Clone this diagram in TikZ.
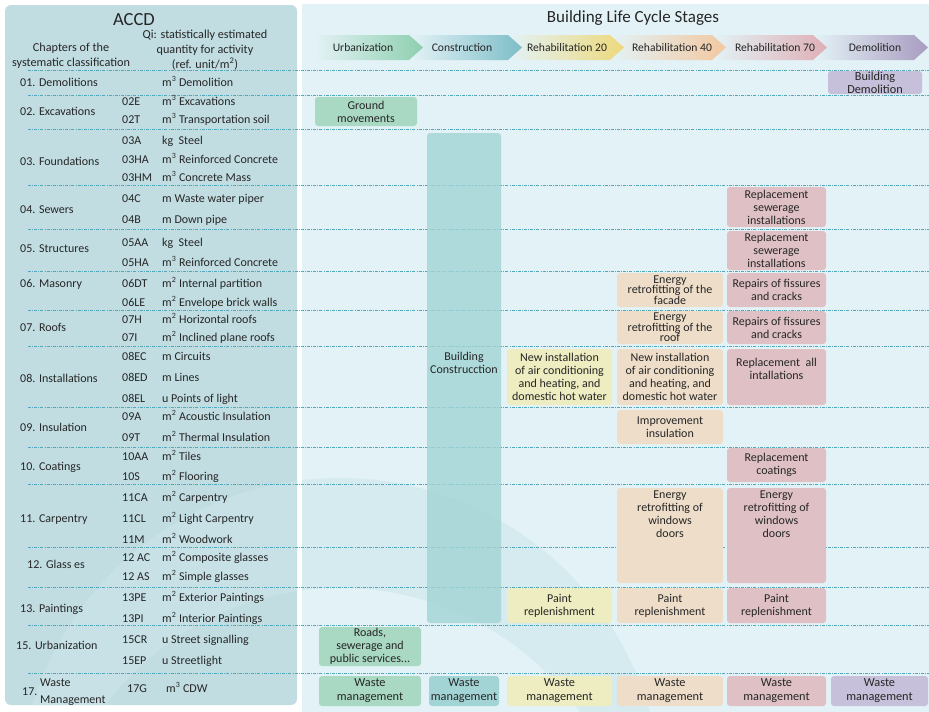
\documentclass[tikz,border=0pt]{standalone}
\usepackage{fontspec}
\setmainfont{Carlito}
\usetikzlibrary{positioning}

\definecolor{leftbg}{HTML}{C1DDE2}
\definecolor{rightbg}{HTML}{E3F2F6}
\definecolor{ringc}{HTML}{CDE6EA}
\definecolor{gridc}{HTML}{4FA9BA}
\definecolor{txt}{HTML}{262626}
\definecolor{urbfill}{HTML}{A9D8C3}
\definecolor{confill}{HTML}{A3D4D5}
\definecolor{rtwfill}{HTML}{EEEDC1}
\definecolor{rfofill}{HTML}{EEDEC9}
\definecolor{rsefill}{HTML}{DFC1C5}
\definecolor{demfill}{HTML}{C6C0DA}
\definecolor{urbarr}{HTML}{8ECFAF}
\definecolor{conarr}{HTML}{7DBDC8}
\definecolor{rtwarr}{HTML}{EDD97C}
\definecolor{rfoarr}{HTML}{F2C8A0}
\definecolor{rsearr}{HTML}{DEAFB5}
\definecolor{demarr}{HTML}{A99CC0}

\newcommand{\mcu}{m\textsuperscript{3}}
\newcommand{\msq}{m\textsuperscript{2}}

\tikzset{
  cell/.style={rounded corners=3pt, align=center, text=txt, inner sep=0pt,
               font=\fontsize{12}{13}\selectfont},
  urbbox/.style={cell, fill=urbfill},
  conbox/.style={cell, fill=confill},
  rtwbox/.style={cell, fill=rtwfill},
  rfobox/.style={cell, fill=rfofill},
  rsebox/.style={cell, fill=rsefill},
  dembox/.style={cell, fill=demfill},
  tight/.style={font=\fontsize{12}{10.5}\selectfont},
  celltxt/.style={align=center, text=txt, inner sep=0pt, font=\fontsize{12}{13}\selectfont},
  waste/.style={font=\fontsize{12.3}{14}\selectfont},
  rowline/.style={draw=gridc, line width=0.7pt, dash pattern=on 3pt off 1.2pt on 0.8pt off 1.2pt},
  chap/.style={anchor=west, text=txt, inner sep=0pt, text height=9pt, text depth=2.5pt},
  stagelbl/.style={text=txt, font=\fontsize{11.6}{13}\selectfont},
  head/.style={align=center, text=txt, font=\fontsize{12.2}{14.8}\selectfont},
}

\begin{document}
\begin{tikzpicture}[x=1pt, y=-1pt, font=\fontsize{12}{14}\selectfont]
  \useasboundingbox (0,0) rectangle (929,712);

  % panels
  \fill[leftbg, rounded corners=6pt] (5,5) rectangle (297,705);
  \fill[rightbg] (302,4) rectangle (929,712);
  \begin{scope}
    \clip (5,5) rectangle (297,705) (302,4) rectangle (929,712);
    \fill[ringc, opacity=0.55, even odd rule] (340,800) circle[radius=322] (340,882) circle[radius=294];
  \end{scope}

  % headings
  \node[text=txt, font=\fontsize{18.5}{20}\selectfont] (accd) at (134,20) {ACCD};
  \node[head] (chaphead) at (71,56) {Chapters of the\\systematic classification};
  \node[head] (qihead) at (205,50) {Qi: statistically estimated\\quantity for activity\\(ref. unit/m\textsuperscript{2})};
  \node[text=txt, font=\fontsize{17}{19}\selectfont] (lcs) at (633,18) {Building Life Cycle Stages};

  % stage chevrons (drawn right to left)
  \foreach \xs/\xt/\c in {815/928/demarr, 714/827/rsearr, 612/726/rfoarr,
                          510/624/rtwarr, 411/522/conarr, 315/423/urbarr}
    \shade[left color=rightbg, right color=\c]
      (\xs,35) -- (\xt-14,35) -- (\xt,47.5) -- (\xt-14,60) -- (\xs,60) -- cycle;
  \node[stagelbl] (sUrb) at (363,47.5) {Urbanization};
  \node[stagelbl] (sCon) at (462,47.5) {Construction};
  \node[stagelbl] (sR20) at (567,47.5) {Rehabilitation 20};
  \node[stagelbl] (sR40) at (672,47.5) {Rehabilitation 40};
  \node[stagelbl] (sR70) at (775,47.5) {Rehabilitation 70};
  \node[stagelbl] (sDem) at (875,47.5) {Demolition};

  % row separators
  \foreach \y in {70,95,129,185,229,271,310,346,407,447,484,547,587,625,673}
    \draw[rowline] (28,\y) -- (929,\y);

  % chapters
  \node[chap] (ch01) at (20,83)  {01. Demolitions};
  \node[chap] (ch02) at (20,112) {02. Excavations};
  \node[chap] (ch03) at (20,162) {03. Foundations};
  \node[chap] (ch04) at (20,210) {04. Sewers};
  \node[chap] (ch05) at (20,249) {05. Structures};
  \node[chap] (ch06) at (20,284) {06. Masonry};
  \node[chap] (ch07) at (20,328) {07. Roofs};
  \node[chap] (ch08) at (20,379) {08. Installations};
  \node[chap] (ch09) at (20,428) {09. Insulation};
  \node[chap] (ch10) at (20,467) {10. Coatings};
  \node[chap] (ch11) at (20,519) {11. Carpentry};
  \node[chap] (ch12) at (27,565) {12. Glass es};
  \node[chap] (ch13) at (20,609) {13. Paintings};
  \node[chap] (ch15) at (16,646) {15. Urbanization};
  \node[chap] (ch17) at (22,692) {17.};
  \node[chap, align=left, text height=, text depth=, font=\fontsize{12}{16.5}\selectfont] (ch17b) at (40,692) {Waste\\Management};

  % codes and quantities
  \node[chap] (q83) at (162,83) {\mcu{} Demolition};
  \foreach \y/\cd/\q in {
      102/02E/\mcu{} Excavations, 120/02T/\mcu{} Transportation soil,
      141/03A/kg\ \ Steel, 160/03HA/\mcu{} Reinforced Concrete, 178/03HM/\mcu{} Concrete Mass,
      199/04C/m Waste water piper, 220/04B/m Down pipe,
      243/05AA/kg\ \ Steel, 263/05HA/\mcu{} Reinforced Concrete,
      284/06DT/\msq{} Internal partition, 303/06LE/\msq{} Envelope brick walls,
      320/07H/\msq{} Horizontal roofs, 338/07I/\msq{} Inclined plane roofs,
      357/08EC/m Circuits, 378/08ED/m Lines, 399/08EL/u Points of light,
      417/09A/\msq{} Acoustic Insulation, 438/09T/\msq{} Thermal Insulation,
      457/10AA/\msq{} Tiles, 477/10S/\msq{} Flooring,
      498/11CA/\msq{} Carpentry, 519/11CL/\msq{} Light Carpentry, 540/11M/\msq{} Woodwork,
      558/12 AC/\msq{} Composite glasses, 577/12 AS/\msq{} Simple glasses,
      598/13PE/\msq{} Exterior Paintings, 619/13PI/\msq{} Interior Paintings,
      640/15CR/u Street signalling, 661/15EP/u Streetlight}{
    \node[chap] (cd\y) at (122,\y) {\cd};
    \node[chap] (q\y) at (162,\y) {\q};
  }
  \node[chap] (cd689) at (127,689) {17G};
  \node[chap] (q689) at (166,689) {\mcu{} CDW};

  % urbanization
  \node[urbbox, minimum width=102pt, minimum height=29pt] (ground) at (366,111.5) {Ground\\movements};
  \node[urbbox, minimum width=102pt, minimum height=39pt] (roads) at (370,646.5) {Roads,\\sewerage and\\public services...};
  \node[urbbox, waste, minimum width=102pt, minimum height=30pt] (wasteU) at (370,691) {Waste\\management};

  % construction
  \node[conbox, fill opacity=0.8, minimum width=74pt, minimum height=490pt] (build) at (464,378) {};
  \node[celltxt] (buildtxt) at (464,363) {Building\\Construcction};
  \node[conbox, waste, minimum width=70pt, minimum height=30pt] (wasteC) at (464,691) {Waste\\management};

  % rehabilitation 20
  \node[rtwbox, minimum width=105pt, minimum height=56pt] (hvac20) at (559.5,377) {New installation\\of air conditioning\\and heating, and\\domestic hot water};
  \node[rtwbox, minimum width=105pt, minimum height=35pt] (paint20) at (559.5,605.5) {Paint\\replenishment};
  \node[rtwbox, waste, minimum width=105pt, minimum height=30pt] (waste20) at (559.5,691) {Waste\\management};

  % rehabilitation 40
  \node[rfobox, tight, minimum width=106pt, minimum height=34pt] (facade) at (670,290) {Energy\\retrofitting of the\\facade};
  \node[rfobox, tight, minimum width=106pt, minimum height=33pt] (roof) at (670,327.5) {Energy\\retrofitting of the\\roof};
  \node[rfobox, minimum width=106pt, minimum height=56pt] (hvac40) at (670,377) {New installation\\of air conditioning\\and heating, and\\domestic hot water};
  \node[rfobox, minimum width=106pt, minimum height=34pt] (insul) at (670,427) {Improvement\\insulation};
  \node[rfobox, minimum width=106pt, minimum height=95pt] (win40) at (670,535.5) {};
  \node[celltxt, below=3pt of win40.north] (win40txt) {Energy\\retrofitting of\\windows\\doors};
  \node[rfobox, minimum width=106pt, minimum height=35pt] (paint40) at (670,605.5) {Paint\\replenishment};
  \node[rfobox, waste, minimum width=106pt, minimum height=30pt] (waste40) at (670,691) {Waste\\management};

  % rehabilitation 70
  \node[rsebox, minimum width=99pt, minimum height=40pt] (sew1) at (776.5,207) {Replacement\\sewerage\\installations};
  \node[rsebox, minimum width=99pt, minimum height=39pt] (sew2) at (776.5,250.5) {Replacement\\sewerage\\installations};
  \node[rsebox, minimum width=99pt, minimum height=34pt] (fiss1) at (776.5,290) {Repairs of fissures\\and cracks};
  \node[rsebox, minimum width=99pt, minimum height=33pt] (fiss2) at (776.5,327.5) {Repairs of fissures\\and cracks};
  \node[rsebox, minimum width=99pt, minimum height=56pt] (allinst) at (776.5,377) {};
  \node[celltxt, below=9pt of allinst.north] (allinsttxt) {Replacement\ \ all\\intallations};
  \node[rsebox, minimum width=99pt, minimum height=34pt] (coat) at (776.5,465) {Replacement\\coatings};
  \node[rsebox, minimum width=99pt, minimum height=95pt] (win70) at (776.5,535.5) {};
  \node[celltxt, below=3pt of win70.north] (win70txt) {Energy\\retrofitting of\\windows\\doors};
  \node[rsebox, minimum width=99pt, minimum height=35pt] (paint70) at (776.5,605.5) {Paint\\replenishment};
  \node[rsebox, waste, minimum width=99pt, minimum height=30pt] (waste70) at (776.5,691) {Waste\\management};

  % demolition
  \node[dembox, font=\fontsize{12.3}{12.7}\selectfont, minimum width=94pt, minimum height=23pt] (bdem) at (875,82.5) {Building\\Demolition};
  \node[dembox, waste, minimum width=97pt, minimum height=30pt] (wasteD) at (879.5,691) {Waste\\management};
\end{tikzpicture}
\end{document}
